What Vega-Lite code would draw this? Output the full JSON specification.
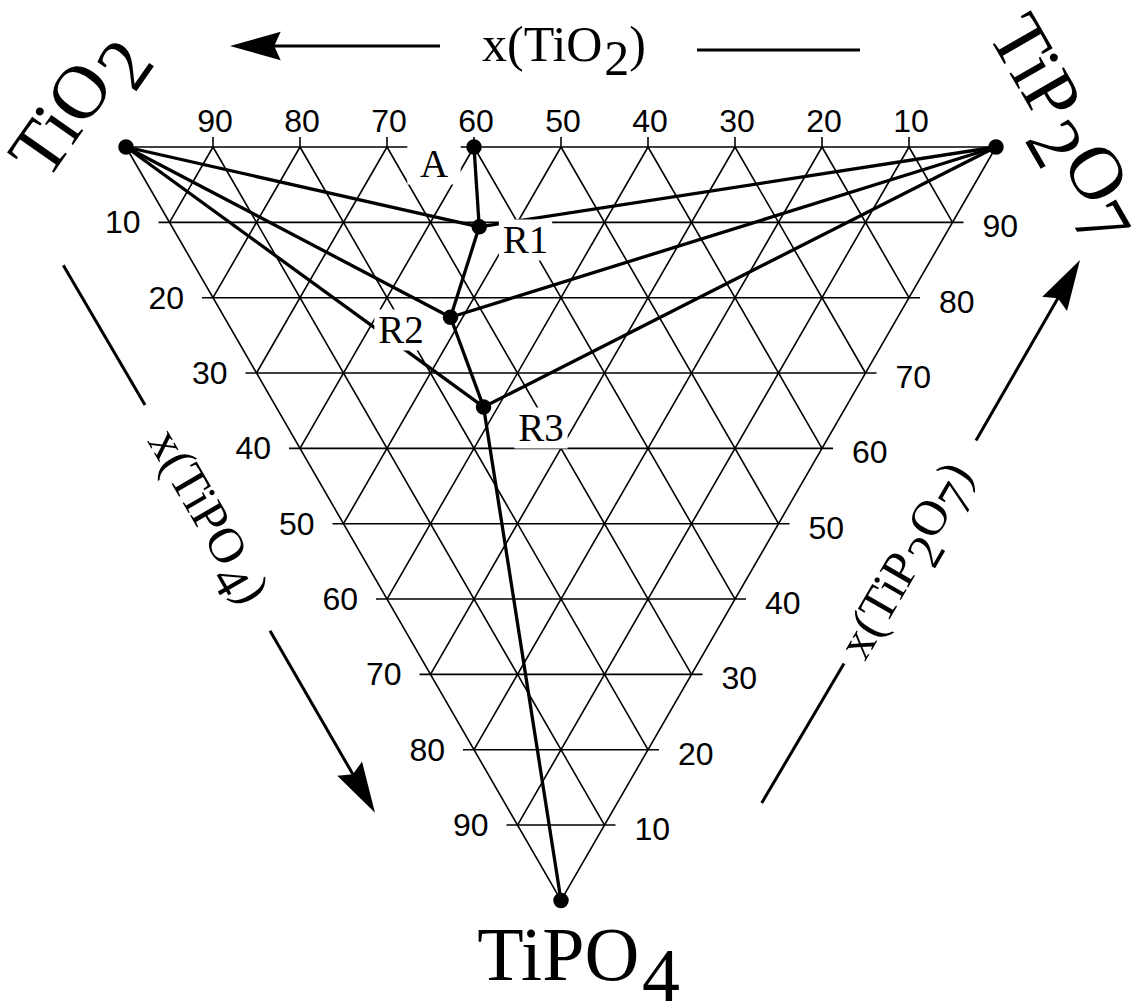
{
  "$schema": "https://vega.github.io/schema/vega-lite/v6.json",
  "width": 1140,
  "height": 1005,
  "padding": 0,
  "autosize": {"type": "none"},
  "background": "white",
  "config": {"view": {"stroke": null}},
  "datasets": {
    "grid": [
      {"family": "edge", "pos": 0, "y": 0, "pos2": 100, "y2": 0},
      {"family": "edge", "pos": 0, "y": 0, "pos2": 50, "y2": 100},
      {"family": "edge", "pos": 100, "y": 0, "pos2": 50, "y2": 100},
      {"family": "TiPO4", "value": 10, "pos": 3.736, "y": 10, "pos2": 96.264, "y2": 10},
      {"family": "TiPO4", "value": 20, "pos": 8.736, "y": 20, "pos2": 91.264, "y2": 20},
      {"family": "TiPO4", "value": 30, "pos": 13.736, "y": 30, "pos2": 86.264, "y2": 30},
      {"family": "TiPO4", "value": 40, "pos": 18.736, "y": 40, "pos2": 81.264, "y2": 40},
      {"family": "TiPO4", "value": 50, "pos": 23.736, "y": 50, "pos2": 76.264, "y2": 50},
      {"family": "TiPO4", "value": 60, "pos": 28.736, "y": 60, "pos2": 71.264, "y2": 60},
      {"family": "TiPO4", "value": 70, "pos": 33.736, "y": 70, "pos2": 66.264, "y2": 70},
      {"family": "TiPO4", "value": 80, "pos": 38.736, "y": 80, "pos2": 61.264, "y2": 80},
      {"family": "TiPO4", "value": 90, "pos": 43.736, "y": 90, "pos2": 56.264, "y2": 90},
      {"family": "TiP2O7", "value": 10, "pos": 10, "y": 0, "pos2": 55, "y2": 90},
      {"family": "TiP2O7", "value": 20, "pos": 20, "y": 0, "pos2": 60, "y2": 80},
      {"family": "TiP2O7", "value": 30, "pos": 30, "y": 0, "pos2": 65, "y2": 70},
      {"family": "TiP2O7", "value": 40, "pos": 40, "y": 0, "pos2": 70, "y2": 60},
      {"family": "TiP2O7", "value": 50, "pos": 50, "y": 0, "pos2": 75, "y2": 50},
      {"family": "TiP2O7", "value": 60, "pos": 60, "y": 0, "pos2": 80, "y2": 40},
      {"family": "TiP2O7", "value": 70, "pos": 70, "y": 0, "pos2": 85, "y2": 30},
      {"family": "TiP2O7", "value": 80, "pos": 80, "y": 0, "pos2": 90, "y2": 20},
      {"family": "TiP2O7", "value": 90, "pos": 90, "y": 0, "pos2": 95, "y2": 10},
      {"family": "TiO2", "value": 10, "pos": 90, "y": 0, "pos2": 45, "y2": 90},
      {"family": "TiO2", "value": 20, "pos": 80, "y": 0, "pos2": 40, "y2": 80},
      {"family": "TiO2", "value": 30, "pos": 70, "y": 0, "pos2": 35, "y2": 70},
      {"family": "TiO2", "value": 40, "pos": 60, "y": 0, "pos2": 30, "y2": 60},
      {"family": "TiO2", "value": 50, "pos": 50, "y": 0, "pos2": 25, "y2": 50},
      {"family": "TiO2", "value": 60, "pos": 40, "y": 0, "pos2": 20, "y2": 40},
      {"family": "TiO2", "value": 70, "pos": 30, "y": 0, "pos2": 15, "y2": 30},
      {"family": "TiO2", "value": 80, "pos": 20, "y": 0, "pos2": 10, "y2": 20},
      {"family": "TiO2", "value": 90, "pos": 10, "y": 0, "pos2": 5, "y2": 10},
      {"family": "tick", "value": 90, "pos": 10, "y": 0, "pos2": 10, "y2": -1.327},
      {"family": "tick", "value": 80, "pos": 20, "y": 0, "pos2": 20, "y2": -1.327},
      {"family": "tick", "value": 70, "pos": 30, "y": 0, "pos2": 30, "y2": -1.327},
      {"family": "tick", "value": 60, "pos": 40, "y": 0, "pos2": 40, "y2": -1.327},
      {"family": "tick", "value": 50, "pos": 50, "y": 0, "pos2": 50, "y2": -1.327},
      {"family": "tick", "value": 40, "pos": 60, "y": 0, "pos2": 60, "y2": -1.327},
      {"family": "tick", "value": 30, "pos": 70, "y": 0, "pos2": 70, "y2": -1.327},
      {"family": "tick", "value": 20, "pos": 80, "y": 0, "pos2": 80, "y2": -1.327},
      {"family": "tick", "value": 10, "pos": 90, "y": 0, "pos2": 90, "y2": -1.327}
    ],
    "tielines": [
      {"from": "TiO2", "to": "R1", "pos": 0, "y": 0, "pos2": 40.6, "y2": 10.6},
      {"from": "TiO2", "to": "R2", "pos": 0, "y": 0, "pos2": 37.3, "y2": 22.6},
      {"from": "TiO2", "to": "R3", "pos": 0, "y": 0, "pos2": 41.1, "y2": 34.5},
      {"from": "TiP2O7", "to": "R1", "pos": 100, "y": 0, "pos2": 40.6, "y2": 10.6},
      {"from": "TiP2O7", "to": "R2", "pos": 100, "y": 0, "pos2": 37.3, "y2": 22.6},
      {"from": "TiP2O7", "to": "R3", "pos": 100, "y": 0, "pos2": 41.1, "y2": 34.5},
      {"from": "A", "to": "R1", "pos": 40, "y": 0, "pos2": 40.6, "y2": 10.6},
      {"from": "R1", "to": "R2", "pos": 40.6, "y": 10.6, "pos2": 37.3, "y2": 22.6},
      {"from": "R2", "to": "R3", "pos": 37.3, "y": 22.6, "pos2": 41.1, "y2": 34.5},
      {"from": "R3", "to": "TiPO4", "pos": 41.1, "y": 34.5, "pos2": 50, "y2": 100}
    ],
    "guides": [
      {"axis": "TiO2", "part": "shaft", "pos": 36.092, "y": -13.406, "pos2": 15.977, "y2": -13.406},
      {"axis": "TiO2", "part": "tail", "pos": 65.632, "y": -12.875, "pos2": 84.368, "y2": -12.875},
      {"axis": "TiPO4", "part": "tail", "pos": -7.207, "y": 15.702, "pos2": 2.184, "y2": 34.245},
      {"axis": "TiPO4", "part": "shaft", "pos": 16.552, "y": 64.216, "pos2": 26.609, "y2": 84.325},
      {"axis": "TiP2O7", "part": "tail", "pos": 73.069, "y": 87.072, "pos2": 82.529, "y2": 68.556},
      {"axis": "TiP2O7", "part": "shaft", "pos": 97.701, "y": 38.957, "pos2": 107.644, "y2": 19.02}
    ],
    "heads": [
      {"axis": "TiO2", "pos": 11.954, "y": -13.406},
      {"axis": "TiPO4", "pos": 28.621, "y": 88.35},
      {"axis": "TiP2O7", "pos": 109.655, "y": 15.0}
    ],
    "phases": [
      {"phase": "TiO2", "pos": 0, "y": 0},
      {"phase": "TiP2O7", "pos": 100, "y": 0},
      {"phase": "TiPO4", "pos": 50, "y": 100},
      {"phase": "A", "pos": 40, "y": 0},
      {"phase": "R1", "pos": 40.6, "y": 10.6},
      {"phase": "R2", "pos": 37.3, "y": 22.6},
      {"phase": "R3", "pos": 41.1, "y": 34.5}
    ],
    "tags": [
      {"tag": "A", "pos": 35.402, "y": 2.256},
      {"tag": "R1", "pos": 45.92, "y": 12.344},
      {"tag": "R2", "pos": 31.609, "y": 24.29},
      {"tag": "R3", "pos": 47.701, "y": 37.298}
    ],
    "scale": [
      {"side": "top", "pos": 10, "y": 0, "label": "90"},
      {"side": "top", "pos": 20, "y": 0, "label": "80"},
      {"side": "top", "pos": 30, "y": 0, "label": "70"},
      {"side": "top", "pos": 40, "y": 0, "label": "60"},
      {"side": "top", "pos": 50, "y": 0, "label": "50"},
      {"side": "top", "pos": 60, "y": 0, "label": "40"},
      {"side": "top", "pos": 70, "y": 0, "label": "30"},
      {"side": "top", "pos": 80, "y": 0, "label": "20"},
      {"side": "top", "pos": 90, "y": 0, "label": "10"},
      {"side": "left", "pos": 5, "y": 10, "label": "10"},
      {"side": "left", "pos": 10, "y": 20, "label": "20"},
      {"side": "left", "pos": 15, "y": 30, "label": "30"},
      {"side": "left", "pos": 20, "y": 40, "label": "40"},
      {"side": "left", "pos": 25, "y": 50, "label": "50"},
      {"side": "left", "pos": 30, "y": 60, "label": "60"},
      {"side": "left", "pos": 35, "y": 70, "label": "70"},
      {"side": "left", "pos": 40, "y": 80, "label": "80"},
      {"side": "left", "pos": 45, "y": 90, "label": "90"},
      {"side": "right", "pos": 95, "y": 10, "label": "90"},
      {"side": "right", "pos": 90, "y": 20, "label": "80"},
      {"side": "right", "pos": 85, "y": 30, "label": "70"},
      {"side": "right", "pos": 80, "y": 40, "label": "60"},
      {"side": "right", "pos": 75, "y": 50, "label": "50"},
      {"side": "right", "pos": 70, "y": 60, "label": "40"},
      {"side": "right", "pos": 65, "y": 70, "label": "30"},
      {"side": "right", "pos": 60, "y": 80, "label": "20"},
      {"side": "right", "pos": 55, "y": 90, "label": "10"}
    ],
    "names": [
      {"name": "TiO2", "pos": -9.08, "y": 4.672},
      {"name": "TiP2O7", "pos": 98.965, "y": -15.0},
      {"name": "TiPO4", "pos": 40.379, "y": 110.526},
      {"name": "x(TiO2)", "pos": 40.92, "y": -11.415},
      {"name": "x(TiPO4)", "pos": 2.414, "y": 39.02},
      {"name": "x(TiP2O7)", "pos": 84.943, "y": 68.357}
    ]
  },
  "encoding": {
    "x": {"field": "pos", "type": "quantitative", "axis": null,
          "scale": {"domain": [-14.483, 116.552], "nice": false, "zero": false}},
    "y": {"field": "y", "type": "quantitative", "axis": null,
          "scale": {"domain": [-19.512, 113.884], "reverse": true, "nice": false, "zero": false}}
  },
  "layer": [
    {
      "data": {"name": "grid"},
      "mark": {"type": "rule", "color": "black", "strokeWidth": 1.6},
      "encoding": {"x2": {"field": "pos2"}, "y2": {"field": "y2"}}
    },
    {
      "data": {"name": "tielines"},
      "mark": {"type": "rule", "color": "black", "strokeWidth": 3.3},
      "encoding": {"x2": {"field": "pos2"}, "y2": {"field": "y2"}}
    },
    {
      "data": {"name": "guides"},
      "mark": {"type": "rule", "color": "black", "strokeWidth": 3},
      "encoding": {"x2": {"field": "pos2"}, "y2": {"field": "y2"}}
    },
    {
      "data": {"name": "heads"},
      "transform": [{"filter": "datum.axis === 'TiO2'"}],
      "mark": {"type": "point", "shape": "M0,0L-1.95,-0.55L-1.7,0L-1.95,0.55Z", "size": 2704, "filled": true, "color": "black", "opacity": 1, "angle": 180}
    },
    {
      "data": {"name": "heads"},
      "transform": [{"filter": "datum.axis === 'TiPO4'"}],
      "mark": {"type": "point", "shape": "M0,0L-1.95,-0.55L-1.7,0L-1.95,0.55Z", "size": 2704, "filled": true, "color": "black", "opacity": 1, "angle": 60}
    },
    {
      "data": {"name": "heads"},
      "transform": [{"filter": "datum.axis === 'TiP2O7'"}],
      "mark": {"type": "point", "shape": "M0,0L-1.95,-0.55L-1.7,0L-1.95,0.55Z", "size": 2704, "filled": true, "color": "black", "opacity": 1, "angle": -60}
    },
    {
      "data": {"name": "tags"},
      "mark": {"type": "point", "shape": "M-1.3,-1L1.3,-1L1.3,1L-1.3,1Z", "size": 1681, "filled": true, "color": "white", "opacity": 1}
    },
    {
      "data": {"name": "tags"},
      "mark": {"type": "text", "font": "Liberation Serif", "fontSize": 39, "align": "center", "baseline": "middle", "dy": 1, "color": "black"},
      "encoding": {"text": {"field": "tag"}}
    },
    {
      "data": {"name": "phases"},
      "mark": {"type": "point", "shape": "circle", "size": 240, "filled": true, "color": "black", "opacity": 1}
    },
    {
      "data": {"name": "scale"},
      "transform": [{"filter": "datum.side === 'top'"}],
      "mark": {"type": "text", "font": "Liberation Sans", "fontSize": 32, "align": "center", "baseline": "alphabetic", "dx": 2, "dy": -15, "color": "black"},
      "encoding": {"text": {"field": "label"}}
    },
    {
      "data": {"name": "scale"},
      "transform": [{"filter": "datum.side === 'left'"}],
      "mark": {"type": "text", "font": "Liberation Sans", "fontSize": 32, "align": "right", "baseline": "middle", "dx": -29, "dy": 1, "color": "black"},
      "encoding": {"text": {"field": "label"}}
    },
    {
      "data": {"name": "scale"},
      "transform": [{"filter": "datum.side === 'right'"}],
      "mark": {"type": "text", "font": "Liberation Sans", "fontSize": 32, "align": "left", "baseline": "middle", "dx": 30, "dy": 5, "color": "black"},
      "encoding": {"text": {"field": "label"}}
    },
    {
      "data": {"name": "names"},
      "transform": [{"filter": "datum.name === 'TiO2'"}],
      "mark": {"type": "text", "font": "Liberation Serif", "fontSize": 76, "angle": -55, "align": "left", "baseline": "alphabetic", "color": "black"},
      "encoding": {"text": {"value": "TiO"}}
    },
    {
      "data": {"name": "names"},
      "transform": [{"filter": "datum.name === 'TiO2'"}],
      "mark": {"type": "text", "font": "Liberation Serif", "fontSize": 76, "angle": -55, "align": "left", "baseline": "alphabetic", "dx": 122.4, "dy": 21, "color": "black"},
      "encoding": {"text": {"value": "2"}}
    },
    {
      "data": {"name": "names"},
      "transform": [{"filter": "datum.name === 'TiPO4'"}],
      "mark": {"type": "text", "font": "Liberation Serif", "fontSize": 76, "align": "left", "baseline": "alphabetic", "color": "black"},
      "encoding": {"text": {"value": "TiPO"}}
    },
    {
      "data": {"name": "names"},
      "transform": [{"filter": "datum.name === 'TiPO4'"}],
      "mark": {"type": "text", "font": "Liberation Serif", "fontSize": 76, "align": "left", "baseline": "alphabetic", "dx": 164.7, "dy": 21, "color": "black"},
      "encoding": {"text": {"value": "4"}}
    },
    {
      "data": {"name": "names"},
      "transform": [{"filter": "datum.name === 'TiP2O7'"}],
      "mark": {"type": "text", "font": "Liberation Serif", "fontSize": 76, "angle": 60, "align": "left", "baseline": "alphabetic", "color": "black"},
      "encoding": {"text": {"value": "TiP"}}
    },
    {
      "data": {"name": "names"},
      "transform": [{"filter": "datum.name === 'TiP2O7'"}],
      "mark": {"type": "text", "font": "Liberation Serif", "fontSize": 76, "angle": 60, "align": "left", "baseline": "alphabetic", "dx": 109.8, "dy": 21, "color": "black"},
      "encoding": {"text": {"value": "2"}}
    },
    {
      "data": {"name": "names"},
      "transform": [{"filter": "datum.name === 'TiP2O7'"}],
      "mark": {"type": "text", "font": "Liberation Serif", "fontSize": 76, "angle": 60, "align": "left", "baseline": "alphabetic", "dx": 147.8, "color": "black"},
      "encoding": {"text": {"value": "O"}}
    },
    {
      "data": {"name": "names"},
      "transform": [{"filter": "datum.name === 'TiP2O7'"}],
      "mark": {"type": "text", "font": "Liberation Serif", "fontSize": 76, "angle": 60, "align": "left", "baseline": "alphabetic", "dx": 202.7, "dy": 21, "color": "black"},
      "encoding": {"text": {"value": "7"}}
    },
    {
      "data": {"name": "names"},
      "transform": [{"filter": "datum.name === 'x(TiO2)'"}],
      "mark": {"type": "text", "font": "Liberation Serif", "fontSize": 50, "align": "left", "baseline": "alphabetic", "color": "black"},
      "encoding": {"text": {"value": "x(TiO"}}
    },
    {
      "data": {"name": "names"},
      "transform": [{"filter": "datum.name === 'x(TiO2)'"}],
      "mark": {"type": "text", "font": "Liberation Serif", "fontSize": 50, "align": "left", "baseline": "alphabetic", "dx": 122.2, "dy": 14, "color": "black"},
      "encoding": {"text": {"value": "2"}}
    },
    {
      "data": {"name": "names"},
      "transform": [{"filter": "datum.name === 'x(TiO2)'"}],
      "mark": {"type": "text", "font": "Liberation Serif", "fontSize": 50, "align": "left", "baseline": "alphabetic", "dx": 147.2, "color": "black"},
      "encoding": {"text": {"value": ")"}}
    },
    {
      "data": {"name": "names"},
      "transform": [{"filter": "datum.name === 'x(TiPO4)'"}],
      "mark": {"type": "text", "font": "Liberation Serif", "fontSize": 50, "angle": 60, "align": "left", "baseline": "alphabetic", "color": "black"},
      "encoding": {"text": {"value": "x(TiPO"}}
    },
    {
      "data": {"name": "names"},
      "transform": [{"filter": "datum.name === 'x(TiPO4)'"}],
      "mark": {"type": "text", "font": "Liberation Serif", "fontSize": 50, "angle": 60, "align": "left", "baseline": "alphabetic", "dx": 150, "dy": 14, "color": "black"},
      "encoding": {"text": {"value": "4"}}
    },
    {
      "data": {"name": "names"},
      "transform": [{"filter": "datum.name === 'x(TiPO4)'"}],
      "mark": {"type": "text", "font": "Liberation Serif", "fontSize": 50, "angle": 60, "align": "left", "baseline": "alphabetic", "dx": 175, "color": "black"},
      "encoding": {"text": {"value": ")"}}
    },
    {
      "data": {"name": "names"},
      "transform": [{"filter": "datum.name === 'x(TiP2O7)'"}],
      "mark": {"type": "text", "font": "Liberation Serif", "fontSize": 50, "angle": -60, "align": "left", "baseline": "alphabetic", "color": "black"},
      "encoding": {"text": {"value": "x(TiP"}}
    },
    {
      "data": {"name": "names"},
      "transform": [{"filter": "datum.name === 'x(TiP2O7)'"}],
      "mark": {"type": "text", "font": "Liberation Serif", "fontSize": 50, "angle": -60, "align": "left", "baseline": "alphabetic", "dx": 113.9, "dy": 14, "color": "black"},
      "encoding": {"text": {"value": "2"}}
    },
    {
      "data": {"name": "names"},
      "transform": [{"filter": "datum.name === 'x(TiP2O7)'"}],
      "mark": {"type": "text", "font": "Liberation Serif", "fontSize": 50, "angle": -60, "align": "left", "baseline": "alphabetic", "dx": 138.9, "color": "black"},
      "encoding": {"text": {"value": "O"}}
    },
    {
      "data": {"name": "names"},
      "transform": [{"filter": "datum.name === 'x(TiP2O7)'"}],
      "mark": {"type": "text", "font": "Liberation Serif", "fontSize": 50, "angle": -60, "align": "left", "baseline": "alphabetic", "dx": 175, "dy": 14, "color": "black"},
      "encoding": {"text": {"value": "7"}}
    },
    {
      "data": {"name": "names"},
      "transform": [{"filter": "datum.name === 'x(TiP2O7)'"}],
      "mark": {"type": "text", "font": "Liberation Serif", "fontSize": 50, "angle": -60, "align": "left", "baseline": "alphabetic", "dx": 200, "color": "black"},
      "encoding": {"text": {"value": ")"}}
    }
  ]
}
